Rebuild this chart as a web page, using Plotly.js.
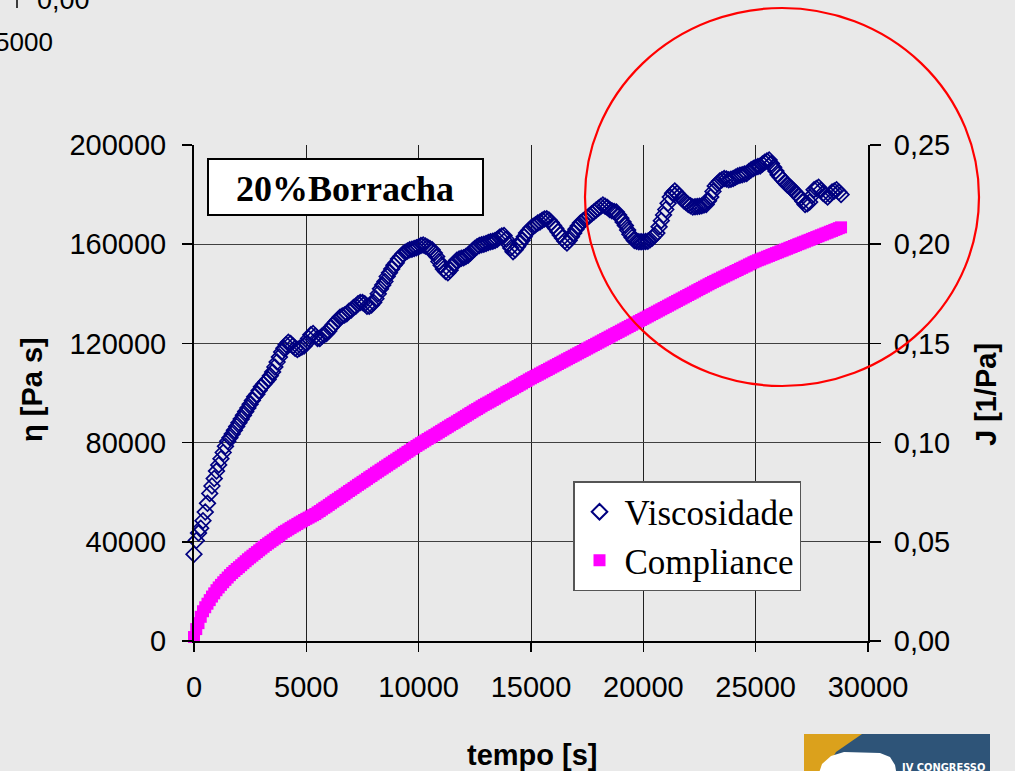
<!DOCTYPE html>
<html>
<head>
<meta charset="utf-8">
<script src="https://cdn.plot.ly/plotly-3.0.1.min.js"></script>
<style>
html,body{margin:0;padding:0;background:#e9e9e9;}
#chart{width:1015px;height:771px;}
</style>
</head>
<body>
<div id="chart"></div>
<script>
// ---- data (one reading every 100 s) ----
const TIME = [
  0,100,200,300,400,500,600,700,800,900,
  1000,1100,1200,1300,1400,1500,1600,1700,1800,1900,
  2000,2100,2200,2300,2400,2500,2600,2700,2800,2900,
  3000,3100,3200,3300,3400,3500,3600,3700,3800,3900,
  4000,4100,4200,4300,4400,4500,4600,4700,4800,4900,
  5000,5100,5200,5300,5400,5500,5600,5700,5800,5900,
  6000,6100,6200,6300,6400,6500,6600,6700,6800,6900,
  7000,7100,7200,7300,7400,7500,7600,7700,7800,7900,
  8000,8100,8200,8300,8400,8500,8600,8700,8800,8900,
  9000,9100,9200,9300,9400,9500,9600,9700,9800,9900,
  10000,10100,10200,10300,10400,10500,10600,10700,10800,10900,
  11000,11100,11200,11300,11400,11500,11600,11700,11800,11900,
  12000,12100,12200,12300,12400,12500,12600,12700,12800,12900,
  13000,13100,13200,13300,13400,13500,13600,13700,13800,13900,
  14000,14100,14200,14300,14400,14500,14600,14700,14800,14900,
  15000,15100,15200,15300,15400,15500,15600,15700,15800,15900,
  16000,16100,16200,16300,16400,16500,16600,16700,16800,16900,
  17000,17100,17200,17300,17400,17500,17600,17700,17800,17900,
  18000,18100,18200,18300,18400,18500,18600,18700,18800,18900,
  19000,19100,19200,19300,19400,19500,19600,19700,19800,19900,
  20000,20100,20200,20300,20400,20500,20600,20700,20800,20900,
  21000,21100,21200,21300,21400,21500,21600,21700,21800,21900,
  22000,22100,22200,22300,22400,22500,22600,22700,22800,22900,
  23000,23100,23200,23300,23400,23500,23600,23700,23800,23900,
  24000,24100,24200,24300,24400,24500,24600,24700,24800,24900,
  25000,25100,25200,25300,25400,25500,25600,25700,25800,25900,
  26000,26100,26200,26300,26400,26500,26600,26700,26800,26900,
  27000,27100,27200,27300,27400,27500,27600,27700,27800,27900,
  28000,28100,28200,28300,28400,28500,28600,28700,28800
];
const VISCOSIDADE = [
  35000,40500,43500,45500,48500,52000,55500,59500,62500,65500,
  68500,71000,73500,76000,78500,80500,82000,83500,85000,86500,
  88000,89500,91000,92500,94000,95500,97000,98500,99500,101000,
  102500,103500,104500,105500,107000,108500,110500,112500,114500,116500,
  118000,119500,120500,120000,119000,118000,117500,118000,118500,119000,
  120000,122000,123500,124000,123000,122000,122000,123000,123500,124000,
  125000,126500,127500,128500,129500,130500,131000,131500,132000,133000,
  133500,134500,135000,136000,136500,136500,136000,135000,135000,135500,
  136500,138000,140000,142000,143500,145000,147000,148500,150000,151500,
  152500,154000,155000,156000,156800,157300,157800,158000,158300,158600,
  159000,159500,159700,159300,158800,158300,157800,156500,155000,153000,
  151500,150000,149000,148500,149500,151000,152500,153500,154000,154300,
  154500,155000,155500,156500,157500,158300,159000,159500,159800,160000,
  160300,160700,161000,161200,161500,162000,162800,163300,163500,162000,
  160000,158500,157000,157800,159000,160300,161500,163000,164500,165500,
  166500,167200,167800,168500,169000,169700,170200,170300,169800,168700,
  167500,166300,165000,163700,162500,161300,160500,161500,163000,164500,
  166000,167300,168500,169300,170000,170800,171500,172300,173000,173800,
  174500,175200,175800,175300,174800,174000,173500,173200,173000,171800,
  170500,169000,167500,165700,164000,162700,161500,161200,161000,161000,
  161000,161100,161200,161800,162500,163500,164500,167000,169500,171800,
  174000,176500,179000,180500,181500,180500,179500,178500,177500,176800,
  176000,175500,175000,175100,175200,175300,175500,175800,176000,177500,
  179000,181300,183500,184500,185500,186000,186500,186300,186000,186200,
  186500,187000,187500,187800,188000,188300,188500,189300,190000,190500,
  191000,191300,191500,192300,193000,193500,194000,192500,191000,189500,
  188000,187000,186000,185000,184000,183300,182500,181500,180500,179500,
  178500,177300,176000,176300,177000,179500,182000,182500,183000,181800,
  180500,179800,179000,180000,181000,181500,182000,181000,180000
];
const COMPLIANCE = [
  0.0020,0.0060,0.0090,0.0122,0.0150,0.0170,0.0188,0.0206,0.0224,0.0240,
  0.0256,0.0270,0.0283,0.0296,0.0308,0.0320,0.0332,0.0343,0.0353,0.0363,
  0.0372,0.0382,0.0392,0.0402,0.0412,0.0421,0.0430,0.0439,0.0448,0.0457,
  0.0466,0.0475,0.0484,0.0492,0.0500,0.0508,0.0516,0.0524,0.0532,0.0541,
  0.0550,0.0556,0.0563,0.0570,0.0577,0.0583,0.0590,0.0597,0.0603,0.0610,
  0.0616,0.0622,0.0628,0.0634,0.0640,0.0648,0.0655,0.0663,0.0671,0.0678,
  0.0686,0.0694,0.0702,0.0710,0.0717,0.0725,0.0732,0.0740,0.0748,0.0756,
  0.0763,0.0771,0.0779,0.0787,0.0794,0.0802,0.0809,0.0817,0.0825,0.0832,
  0.0840,0.0848,0.0855,0.0863,0.0870,0.0878,0.0885,0.0893,0.0900,0.0908,
  0.0915,0.0923,0.0930,0.0938,0.0945,0.0953,0.0960,0.0968,0.0975,0.0983,
  0.0990,0.0997,0.1004,0.1011,0.1018,0.1025,0.1031,0.1038,0.1045,0.1052,
  0.1059,0.1066,0.1073,0.1080,0.1087,0.1094,0.1100,0.1107,0.1114,0.1121,
  0.1128,0.1135,0.1142,0.1149,0.1156,0.1163,0.1169,0.1176,0.1183,0.1190,
  0.1196,0.1202,0.1208,0.1215,0.1221,0.1228,0.1234,0.1241,0.1247,0.1254,
  0.1260,0.1266,0.1272,0.1279,0.1285,0.1292,0.1298,0.1305,0.1311,0.1318,
  0.1324,0.1330,0.1336,0.1342,0.1348,0.1354,0.1360,0.1366,0.1372,0.1378,
  0.1384,0.1390,0.1396,0.1402,0.1408,0.1414,0.1420,0.1426,0.1432,0.1438,
  0.1444,0.1450,0.1456,0.1462,0.1468,0.1474,0.1480,0.1486,0.1492,0.1498,
  0.1504,0.1510,0.1516,0.1522,0.1528,0.1534,0.1540,0.1546,0.1552,0.1558,
  0.1564,0.1570,0.1576,0.1582,0.1588,0.1594,0.1600,0.1606,0.1612,0.1618,
  0.1624,0.1630,0.1636,0.1642,0.1648,0.1654,0.1660,0.1666,0.1672,0.1678,
  0.1684,0.1690,0.1696,0.1702,0.1708,0.1714,0.1720,0.1726,0.1732,0.1738,
  0.1744,0.1750,0.1756,0.1762,0.1768,0.1774,0.1780,0.1786,0.1792,0.1798,
  0.1804,0.1810,0.1815,0.1821,0.1826,0.1832,0.1837,0.1843,0.1848,0.1854,
  0.1859,0.1865,0.1870,0.1876,0.1881,0.1887,0.1892,0.1898,0.1903,0.1909,
  0.1914,0.1919,0.1923,0.1928,0.1932,0.1937,0.1941,0.1946,0.1950,0.1955,
  0.1959,0.1964,0.1968,0.1973,0.1977,0.1982,0.1986,0.1991,0.1995,0.2000,
  0.2004,0.2009,0.2013,0.2018,0.2022,0.2027,0.2031,0.2036,0.2040,0.2045,
  0.2049,0.2054,0.2058,0.2063,0.2067,0.2072,0.2076,0.2081,0.2085
];
const SERIES_NAMES = ['Viscosidade', 'Compliance'];
const X_TITLE = 'tempo [s]';
const Y_TITLE = 'η [Pa s]';
const Y2_TITLE = 'J [1/Pa]';
const BOX_LABEL = '20%Borracha';

// ---- layout helpers (pixel -> paper), plot area 194..868 x 145..641 ----
const L = 194, R = 147, T = 145, B = 130, W = 1015, H = 771;
const PW = W - L - R, PH = H - T - B;
const px = x => (x - L) / PW;
const py = y => (H - B - y) / PH;

const sans = 'Liberation Sans, Arial, sans-serif';
const serif = 'Liberation Serif, Times New Roman, serif';

const traces = [
  {
    x: TIME, y: VISCOSIDADE, name: SERIES_NAMES[0], type: 'scatter', mode: 'markers',
    cliponaxis: false,
    marker: {symbol: 'diamond-open', size: 12, color: '#000080', line: {width: 1.7, color: '#000080'}},
    yaxis: 'y'
  },
  {
    x: TIME, y: COMPLIANCE, name: SERIES_NAMES[1], type: 'scatter', mode: 'markers',
    cliponaxis: false,
    marker: {symbol: 'square', size: 12, color: '#ff00ff', line: {width: 0}},
    yaxis: 'y2'
  }
];

const path = pts => 'M ' + pts.map(p => px(p[0]) + ' ' + py(p[1])).join(' L ') + ' Z';

const layout = {
  width: W, height: H, autosize: false,
  margin: {l: L, r: R, t: T, b: B, pad: 0},
  paper_bgcolor: '#e9e9e9', plot_bgcolor: '#e9e9e9',
  separators: ',.',
  showlegend: true,
  legend: {
    x: px(573), y: py(481), xanchor: 'left', yanchor: 'top',
    bgcolor: '#ffffff', bordercolor: '#555555', borderwidth: 1.5,
    font: {family: serif, size: 35, color: '#000'},
    tracegroupgap: 0, itemwidth: 40, itemsizing: 'constant'
  },
  xaxis: {
    range: [0, 30000], dtick: 5000, tick0: 0, tickformat: 'd',
    showgrid: true, gridcolor: '#202020', gridwidth: 1,
    showline: true, linecolor: '#000', linewidth: 2,
    ticks: 'outside', ticklen: 9, tickcolor: '#000', tickwidth: 1.5,
    ticklabelstandoff: 10,
    zeroline: false,
    tickfont: {family: sans, size: 29, color: '#000'}
  },
  yaxis: {
    range: [0, 200000], dtick: 40000, tick0: 0, tickformat: 'd',
    showgrid: true, gridcolor: '#404040', gridwidth: 1,
    showline: true, linecolor: '#000', linewidth: 2,
    ticks: 'outside', ticklen: 10, tickcolor: '#000', tickwidth: 1.5,
    ticklabelstandoff: 10,
    zeroline: false,
    tickfont: {family: sans, size: 29, color: '#000'}
  },
  yaxis2: {
    range: [0, 0.25], dtick: 0.05, tick0: 0, tickformat: '.2f',
    overlaying: 'y', side: 'right', showgrid: false,
    showline: true, linecolor: '#000', linewidth: 2,
    ticks: 'outside', ticklen: 11, tickcolor: '#000', tickwidth: 1.5,
    ticklabelstandoff: 7,
    zeroline: false,
    tickfont: {family: sans, size: 29, color: '#000'}
  },
  shapes: [
    // label box
    {type: 'rect', xref: 'paper', yref: 'paper', x0: px(208), x1: px(483), y0: py(215), y1: py(159),
     fillcolor: '#ffffff', line: {color: '#000', width: 2}, layer: 'above'},
    // red ellipse
    {type: 'circle', xref: 'paper', yref: 'paper', x0: px(585), x1: px(979), y0: py(386), y1: py(8),
     line: {color: '#ff0000', width: 2.2}, layer: 'above'},
    // stray tick mark top-left
    {type: 'line', xref: 'paper', yref: 'paper', x0: px(17), x1: px(17), y0: py(-4), y1: py(8),
     line: {color: '#000', width: 1.5}},
    // logo
    {type: 'rect', xref: 'paper', yref: 'paper', x0: px(804), x1: px(990), y0: py(776), y1: py(734),
     fillcolor: '#dba11c', line: {width: 0}},
    {type: 'path', xref: 'paper', yref: 'paper',
     path: path([[862,734],[990,734],[990,776],[822,776],[836,752]]),
     fillcolor: '#2e5478', line: {width: 0}},
    {type: 'path', xref: 'paper', yref: 'paper',
     path: path([[818,776],[822,764],[831,756],[844,752],[880,753],[890,757],[895,765],[897,776]]),
     fillcolor: '#ffffff', line: {width: 0}}
  ],
  annotations: [
    {text: BOX_LABEL, xref: 'paper', yref: 'paper', x: px(345), y: py(189), xanchor: 'center', yanchor: 'middle',
     showarrow: false, font: {family: serif, size: 36, color: '#000', weight: 'bold'}},
    {text: X_TITLE, xref: 'paper', yref: 'paper', x: px(532), y: py(755), xanchor: 'center', yanchor: 'middle',
     showarrow: false, font: {family: sans, size: 29, color: '#000', weight: 'bold'}},
    {text: Y_TITLE, xref: 'paper', yref: 'paper', x: px(32), y: py(390), xanchor: 'center', yanchor: 'middle',
     textangle: -90, showarrow: false, font: {family: sans, size: 29, color: '#000', weight: 'bold'}},
    {text: Y2_TITLE, xref: 'paper', yref: 'paper', x: px(986), y: py(395), xanchor: 'center', yanchor: 'middle',
     textangle: -90, showarrow: false, font: {family: sans, size: 29, color: '#000', weight: 'bold'}},
    // stray labels from a neighbouring chart (top-left, cut by the picture edge as in the reference)
    {text: '0,00', xref: 'paper', yref: 'paper', x: px(92), y: py(0), xanchor: 'right', yanchor: 'middle',
     showarrow: false, font: {family: sans, size: 27, color: '#000'}},
    {text: '5000', xref: 'paper', yref: 'paper', x: px(55), y: py(42), xanchor: 'right', yanchor: 'middle',
     showarrow: false, font: {family: sans, size: 26, color: '#000'}},
    // logo text
    {text: 'IV CONGRESSO', xref: 'paper', yref: 'paper', x: px(943), y: py(767), xanchor: 'center', yanchor: 'middle',
     showarrow: false, font: {family: 'Liberation Sans Narrow, DejaVu Sans Condensed, Liberation Sans, sans-serif', size: 11, color: '#ffffff', weight: 'bold'}}
  ]
};

Plotly.newPlot('chart', traces, layout, {displayModeBar: false, staticPlot: true});
</script>
</body>
</html>
